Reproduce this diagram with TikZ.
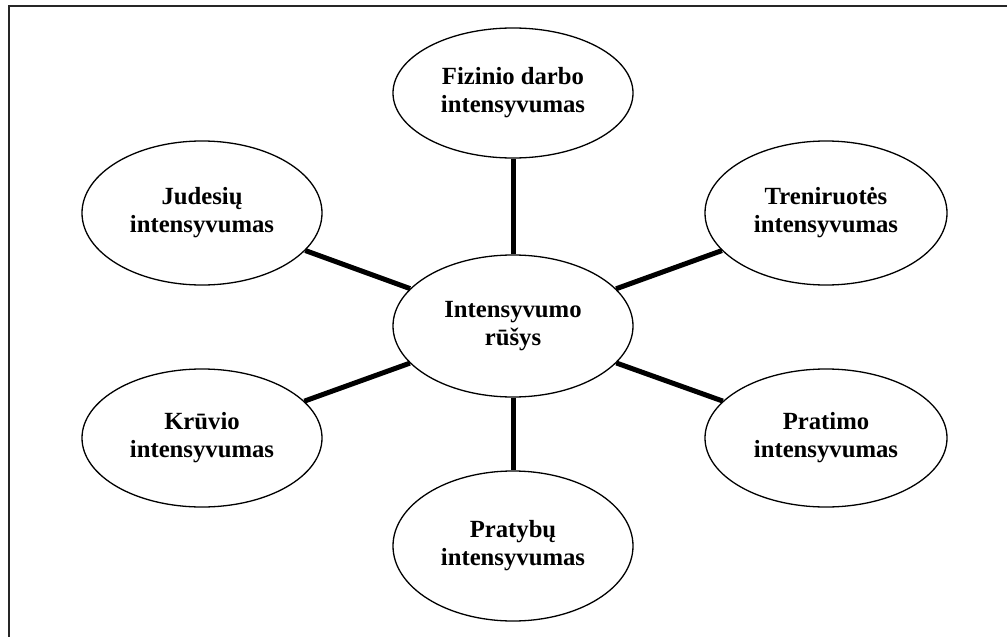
\documentclass[tikz,border=0pt]{standalone}
\usepackage{fontspec}
\setmainfont{Liberation Serif}
\usetikzlibrary{shapes.geometric}
\begin{document}
\begin{tikzpicture}[x=1pt,y=-1pt,
  bubble/.style={ellipse,draw=black,line width=1.3pt,fill=white,inner sep=0pt,
    align=center,font=\fontsize{24.7}{28}\selectfont\bfseries},
  spoke/.style={line width=5pt,black}]
  \useasboundingbox (0,0) rectangle (1007,637);
  % outer frame (top and left sides)
  \draw[line width=2pt,black!85] (9,637) -- (9,6) -- (1007,6);
  % hub and surrounding categories
  \node[bubble,minimum width=240pt,minimum height=142pt] (hub) at (513,326) {Intensyvumo\\rūšys};
  \node[bubble,minimum width=240pt,minimum height=130pt] (fiz) at (513,93) {Fizinio darbo\\intensyvumas};
  \node[bubble,minimum width=240pt,minimum height=144pt] (jud) at (202,213) {Judesių\\intensyvumas};
  \node[bubble,minimum width=242pt,minimum height=144pt] (tren) at (826,213) {Treniruotės\\intensyvumas};
  \node[bubble,minimum width=240pt,minimum height=138pt] (kruv) at (202,438) {Krūvio\\intensyvumas};
  \node[bubble,minimum width=242pt,minimum height=138pt] (prat) at (826,438) {Pratimo\\intensyvumas};
  \node[bubble,minimum width=240pt,minimum height=150pt] (praty) at (513,546) {Pratybų\\intensyvumas};
  % spokes
  \draw[spoke] (hub) -- (fiz);
  \draw[spoke] (hub) -- (jud);
  \draw[spoke] (hub) -- (tren);
  \draw[spoke] (hub) -- (kruv);
  \draw[spoke] (hub) -- (prat);
  \draw[spoke] (hub) -- (praty);
\end{tikzpicture}
\end{document}
